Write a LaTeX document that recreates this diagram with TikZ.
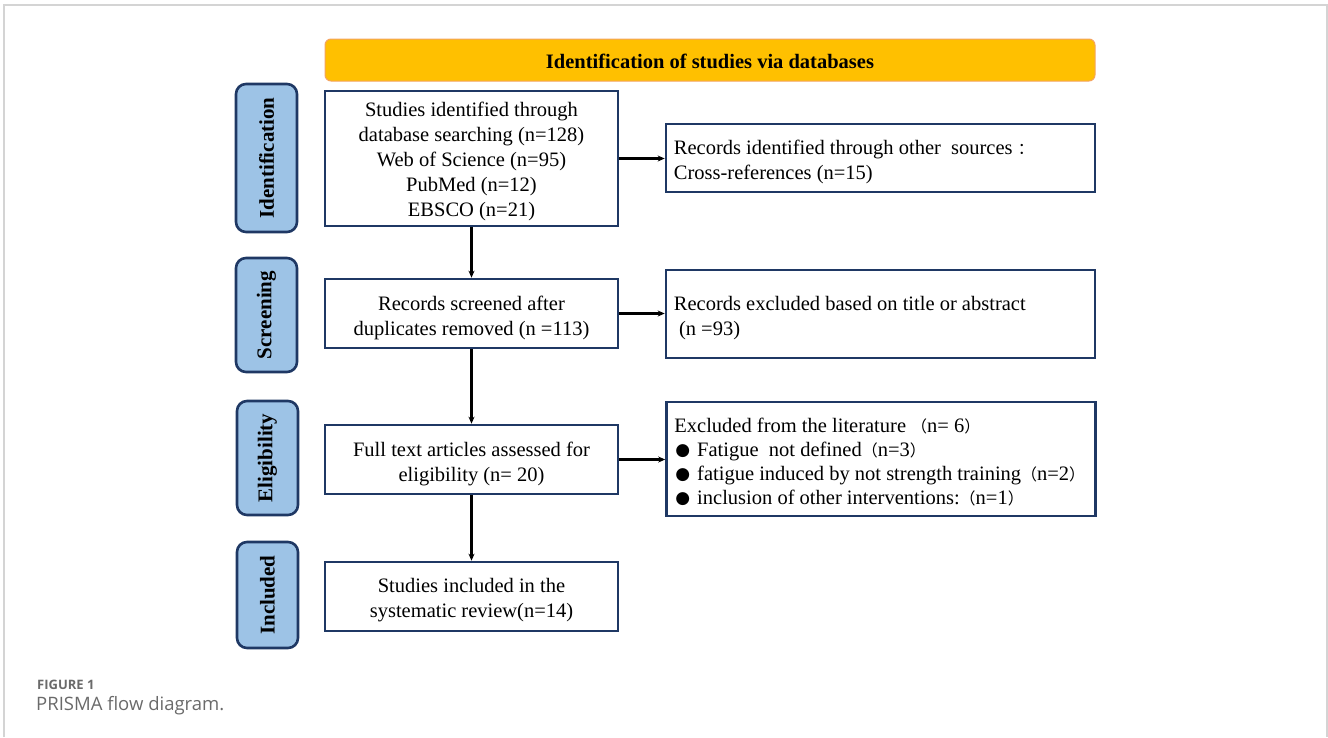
\documentclass[tikz,border=0pt]{standalone}
\usepackage{fontspec}
\setmainfont{Liberation Serif}
\newfontfamily\cjk{Noto Sans CJK SC}
\newfontfamily\dv{DejaVu Sans}
\newfontfamily\capfont{Open Sans}
\usetikzlibrary{arrows.meta}
\definecolor{navy}{HTML}{1F3864}
\definecolor{lblue}{HTML}{9DC3E6}
\definecolor{gold}{HTML}{FFC000}
\definecolor{goldedge}{HTML}{F4A460}
\definecolor{framegray}{HTML}{D4D4D4}
\definecolor{capgray}{HTML}{6A6A6A}
\newcommand{\fp}[1]{{\cjk\fontsize{16}{24}\selectfont #1}}
\newcommand{\bul}{\hspace{1pt}\raisebox{1pt}{\dv\fontsize{17}{24}\selectfont ●}\hspace{7pt}}
\begin{document}
\begin{tikzpicture}[x=1pt,y=-1pt,
  txt/.style={font=\fontsize{20.5}{25}\selectfont},
  mainbox/.style={draw=navy, line width=2.6pt, fill=white, inner sep=0pt, minimum width=293pt},
  maintext/.style={inner sep=0pt, align=center, txt},
  sidebox/.style={draw=navy, line width=2.6pt, fill=lblue, rounded corners=10pt, inner sep=0pt,
     minimum width=61pt, font=\fontsize{21}{24}\selectfont\bfseries},
  rightbox/.style={draw=navy, line width=2.6pt, fill=white, inner sep=0pt, minimum width=429pt},
  righttext/.style={inner sep=0pt, anchor=west, align=left, txt},
  arr/.style={line width=2.2pt, -{Stealth[length=7pt,width=6pt]}},
  frameline/.style={draw=framegray, line width=1.5pt}
]
\useasboundingbox (0,0) rectangle (1328,737);
% frame
\draw[frameline] (4,737) -- (4,5) -- (1327,5) -- (1327,737);

% banner
\node[draw=goldedge, line width=1pt, fill=gold, rounded corners=6pt, minimum width=770pt,
  minimum height=42pt, inner sep=0pt] (banner) at (710,60) {};
\node[inner sep=0pt, font=\fontsize{20.5}{24}\selectfont\bfseries] (bannert)
  at ([yshift=-1pt]banner.center) {Identification of studies via databases};

% side labels
\node[sidebox, minimum height=148pt] (sid) at (266.5,158) {\rotatebox{90}{Identification}};
\node[sidebox, minimum height=114pt] (ssc) at (266.5,315) {\rotatebox{90}{Screening}};
\node[sidebox, minimum height=114pt] (sel) at (267.5,458) {\rotatebox{90}{Eligibility}};
\node[sidebox, minimum height=106pt] (sin) at (267.5,595) {\rotatebox{90}{Included}};

% main boxes
\node[mainbox, minimum height=135pt] (b1) at (471.5,158.5) {};
\node[maintext] (b1t) at ([yshift=-3pt]b1.center)
  {Studies identified through\\database searching (n=128)\\Web of Science (n=95)\\PubMed (n=12)\\EBSCO (n=21)};
\node[mainbox, minimum height=69pt] (b2) at (471.5,313.5) {};
\node[maintext] (b2t) at ([yshift=-4pt]b2.center)
  {Records screened after\\duplicates removed (n =113)};
\node[mainbox, minimum height=69pt] (b3) at (471.5,459.5) {};
\node[maintext] (b3t) at ([yshift=-4pt]b3.center)
  {Full text articles assessed for\\eligibility (n= 20)};
\node[mainbox, minimum height=69pt] (b4) at (471.5,596.5) {};
\node[maintext] (b4t) at ([yshift=-4pt]b4.center)
  {Studies included in the\\systematic review(n=14)};

% right boxes
\node[rightbox, minimum height=68pt] (r1) at (880.5,158) {};
\node[righttext] (r1t) at ([xshift=9pt,yshift=-4pt]r1.west)
  {Records identified through other\ \ sources \fp{：}\\Cross-references (n=15)};
\node[rightbox, minimum height=88pt] (r2) at (880.5,314) {};
\node[righttext] (r2t) at ([xshift=9pt,yshift=-4pt]r2.west)
  {Records excluded based on title or abstract\\\ (n =93)};
\node[rightbox, minimum height=114pt] (r3) at (881,459) {};
\node[righttext, font=\fontsize{20.5}{24}\selectfont] (r3t) at ([xshift=9pt,yshift=-3pt]r3.west)
  {Excluded from the literature \fp{（}n= 6\fp{）}\\
   \bul Fatigue\ \ not defined\fp{（}n=3\fp{）}\\
   \bul fatigue induced by not strength training\fp{（}n=2\fp{）}\\
   \bul inclusion of other interventions:\fp{（}n=1\fp{）}};

% connectors
\draw[arr] (b1.south) -- (b2.north);
\draw[arr] (b2.south) -- (b3.north);
\draw[arr] (b3.south) -- (b4.north);
\draw[arr] (b1.east) -- (b1.east -| r1.west);
\draw[arr] (b2.east) -- (b2.east -| r2.west);
\draw[arr] (b3.east) -- (b3.east -| r3.west);

% caption
\node[anchor=base west, inner sep=0pt, text=capgray, font=\capfont\bfseries\fontsize{13}{16}\selectfont]
  (fig) at (37,689) {FIGURE 1};
\node[anchor=base west, inner sep=0pt, text=capgray, font=\capfont\fontsize{18.5}{20}\selectfont]
  (cap) at (36,710) {PRISMA flow diagram.};
\end{tikzpicture}
\end{document}
